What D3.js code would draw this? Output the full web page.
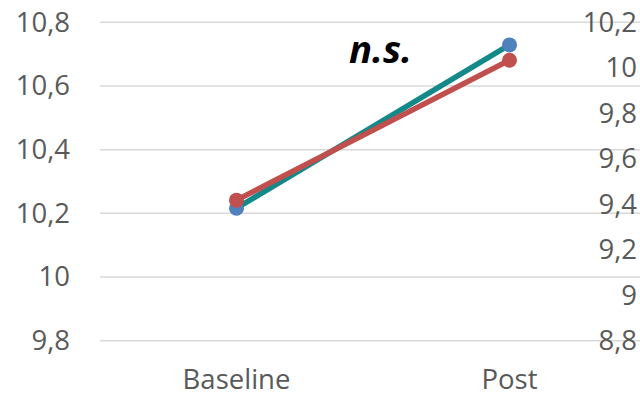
<!DOCTYPE html>
<html>
<head>
<meta charset="utf-8">
<script src="https://cdn.jsdelivr.net/npm/d3@7"></script>
<style>
  html, body { margin: 0; padding: 0; background: #fff; }
  svg { display: block; }
  text { font-family: "Open Sans", "Liberation Sans", sans-serif; fill: #595959; }
</style>
</head>
<body>
<svg id="chart" width="640" height="397"></svg>
<script>
// Time points on the x axis
const categories = ["Baseline", "Post"];

// Series plotted on the primary (left) axis
const seriesPrimary = [10.216, 10.729];
// Series plotted on the secondary (right) axis
const seriesSecondary = [9.418, 10.033];

// Tick values for both value axes
const leftTicks = [9.8, 10.0, 10.2, 10.4, 10.6, 10.8];
const rightTicks = [8.8, 9.0, 9.2, 9.4, 9.6, 9.8, 10.0, 10.2];

const annotation = "n.s.";

const svg = d3.select("#chart");
const plot = { left: 100, right: 646, top: 22.3, bottom: 340.7 };
const labelSize = 27.5;

const x = d3.scaleBand().domain(categories).range([plot.left, plot.right]);
const yL = d3.scaleLinear().domain([9.8, 10.8]).range([plot.bottom, plot.top]);
const yR = d3.scaleLinear().domain([8.8, 10.2]).range([plot.bottom, plot.top]);

const fmt = v => d3.format("~g")(+v.toFixed(1)).replace(".", ",");

// Horizontal gridlines at each primary tick
svg.append("g")
  .selectAll("line")
  .data(leftTicks)
  .join("line")
  .attr("x1", plot.left).attr("x2", plot.right)
  .attr("y1", d => yL(d)).attr("y2", d => yL(d))
  .attr("stroke", "#d9d9d9").attr("stroke-width", 1.5);

function styleLabels(g) {
  g.select(".domain").remove();
  g.selectAll("text")
    .attr("font-size", labelSize).attr("fill", "#595959")
    .attr("font-family", "Open Sans, Liberation Sans, sans-serif");
}

// Left axis labels
svg.append("g")
  .attr("transform", `translate(${plot.left - 30},0)`)
  .call(d3.axisLeft(yL).tickValues(leftTicks).tickFormat(fmt).tickSize(0).tickPadding(0))
  .call(styleLabels);

// Right axis labels, drawn over the gridlines
svg.append("g")
  .attr("transform", `translate(637,0)`)
  .call(d3.axisLeft(yR).tickValues(rightTicks).tickFormat(fmt).tickSize(0).tickPadding(0))
  .call(styleLabels);

// Category labels
const axisX = svg.append("g")
  .attr("transform", `translate(0,${plot.bottom})`)
  .call(d3.axisBottom(x).tickSize(0).tickPadding(0))
  .call(styleLabels);
axisX.selectAll("text").attr("y", 48).attr("dy", null);

const cx = d => x(d) + x.bandwidth() / 2;

function drawSeries(values, yScale, lineColor, markerColor) {
  const pts = categories.map((c, i) => [cx(c), yScale(values[i])]);
  svg.append("path")
    .attr("d", d3.line()(pts))
    .attr("fill", "none")
    .attr("stroke", lineColor)
    .attr("stroke-width", 5.5)
    .attr("stroke-linecap", "round");
  svg.append("g")
    .selectAll("circle")
    .data(pts)
    .join("circle")
    .attr("cx", d => d[0]).attr("cy", d => d[1])
    .attr("r", 7.5)
    .attr("fill", markerColor);
}

drawSeries(seriesPrimary, yL, "#14898a", "#4f81bd");
drawSeries(seriesSecondary, yR, "#c0504d", "#c0504d");

// Significance note
svg.append("text")
  .attr("x", 349).attr("y", 63)
  .attr("font-size", 38)
  .attr("font-weight", "bold")
  .attr("font-style", "italic")
  .attr("textLength", 63)
  .attr("lengthAdjust", "spacingAndGlyphs")
  .style("fill", "#000")
  .text(annotation);
</script>
</body>
</html>
